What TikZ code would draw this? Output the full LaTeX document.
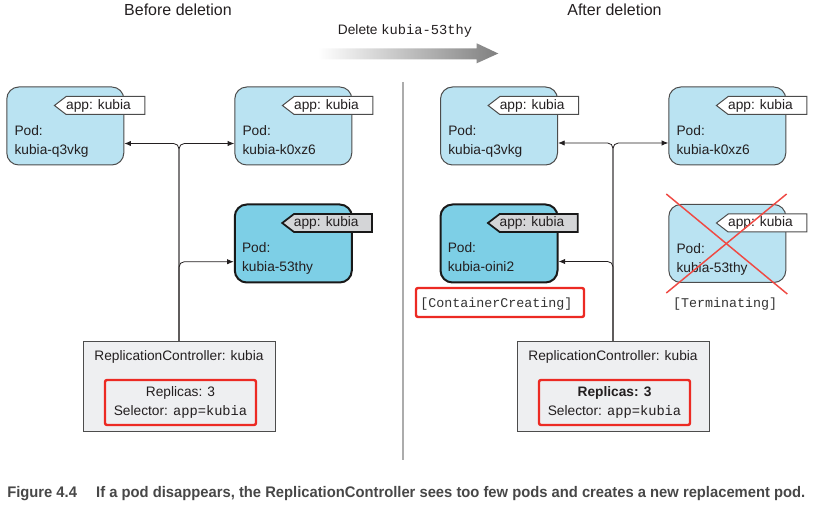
\documentclass[tikz,border=0pt]{standalone}
\usepackage{fontspec}
\setmainfont{Liberation Sans}
\setmonofont{Liberation Mono}
\usepackage{graphicx}
\usepackage{xcolor}
\usetikzlibrary{arrows.meta, positioning, shapes.symbols}

\definecolor{podblue}{HTML}{BAE3F2}
\definecolor{podnew}{HTML}{7DCFE6}
\definecolor{rcgray}{HTML}{EEEFF1}
\definecolor{taggray}{HTML}{D4D5D7}
\definecolor{alertred}{HTML}{EC2A23}
\definecolor{inkgray}{HTML}{231F20}

\begin{document}
\begin{tikzpicture}[
    x=0.75pt, y=-0.75pt,
    every node/.style={font=\fontsize{10.3}{14.25}\selectfont, text=inkgray},
    pod/.style={rectangle, draw=black!70, line width=0.75pt, rounded corners=9pt, fill=podblue, minimum width=87.75pt, minimum height=58.5pt, inner sep=0pt},
    newpod/.style={pod, fill=podnew, draw=black!90, line width=1.5pt},
    tag/.style={signal, signal to=west, signal pointer angle=75, draw=black!70, line width=0.75pt, fill=white, minimum height=13.5pt, inner xsep=0pt, inner ysep=0pt, anchor=east},
    newtag/.style={tag, fill=taggray, draw=black!90, line width=1.3pt},
    podtext/.style={anchor=north west, align=left, inner sep=0pt},
    title/.style={font=\fontsize{12}{14}\selectfont},
    rcbox/.style={rectangle, draw=black!70, line width=0.75pt, fill=rcgray, minimum width=144pt, minimum height=67.5pt},
    redbox/.style={rectangle, draw=alertred, line width=1.8pt, rounded corners=1.5pt, minimum width=113.25pt, minimum height=33.75pt, align=center, inner sep=0pt},
    state/.style={font=\ttfamily\fontsize{10}{12}\selectfont, text=black!80, inner sep=0pt},
    conn/.style={draw=inkgray, line width=0.6pt, rounded corners=4pt, -{Latex[length=5pt, width=4pt]}},
    cross/.style={draw=alertred!85, line width=1.1pt}
]
    \useasboundingbox (0,0) rectangle (813,505);

    % titles and the delete arrow
    \node[title] (before) at (178,10) {Before deletion};
    \node[title] (after) at (614.5,10) {After deletion};
    \node (delete) at (405,31) {Delete \texttt{kubia-53thy}};
    \shade[left color=white, right color=black!50]
        (318,48.3) -- (476.7,48.3) -- (476.7,43.3) -- (498.3,53.5) -- (476.7,63.3) -- (476.7,59.3) -- (318,59.3) -- cycle;
    \draw[gray!65, line width=1.1pt] (403,82) -- (403,460);

    % before deletion
    \node[pod] (lq) at (65.3,126) {};
    \node[tag] (lq-tag) at ([shift={(21,19)}]lq.north east) {app: kubia\kern10.5pt};
    \node[podtext] (lq-txt) at ([shift={(8,39)}]lq.north west) {Pod:\\kubia-q3vkg};
    \node[pod] (lk) at (293.3,126) {};
    \node[tag] (lk-tag) at ([shift={(21,19)}]lk.north east) {app: kubia\kern10.5pt};
    \node[podtext] (lk-txt) at ([shift={(8,39)}]lk.north west) {Pod:\\kubia-k0xz6};
    \node[newpod] (l53) at (293.3,243.5) {};
    \node[newtag] (l53-tag) at ([shift={(20,19.5)}]l53.north east) {app: kubia\kern10pt};
    \node[podtext] (l53-txt) at ([shift={(8,39)}]l53.north west) {Pod:\\kubia-53thy};

    \node[rcbox] (rcl) at (179,386.5) {};
    \node (rcl-name) at (179,357) {ReplicationController: kubia};
    \node[redbox] (rcl-spec) at (180.5,402.5) {Replicas: 3\\Selector: \texttt{app=kubia}};

    \draw[conn] (rcl.north) |- ([shift={(0,17.5)}]lq.east);
    \draw[conn] (rcl.north) |- ([shift={(0,17.5)}]lk.west);
    \draw[conn] (rcl.north) |- ([shift={(0,18.2)}]l53.west);

    % after deletion
    \node[pod] (rq) at (499,126) {};
    \node[tag] (rq-tag) at ([shift={(21,19)}]rq.north east) {app: kubia\kern10.5pt};
    \node[podtext] (rq-txt) at ([shift={(8,39)}]rq.north west) {Pod:\\kubia-q3vkg};
    \node[pod] (rk) at (727.3,126) {};
    \node[tag] (rk-tag) at ([shift={(21,19)}]rk.north east) {app: kubia\kern10.5pt};
    \node[podtext] (rk-txt) at ([shift={(8,39)}]rk.north west) {Pod:\\kubia-k0xz6};
    \node[newpod] (ro) at (499,243.5) {};
    \node[newtag] (ro-tag) at ([shift={(20,19.5)}]ro.north east) {app: kubia\kern10pt};
    \node[podtext] (ro-txt) at ([shift={(8,39)}]ro.north west) {Pod:\\kubia-oini2};
    \node[pod] (r53) at (727.3,243.5) {};
    \node[tag] (r53-tag) at ([shift={(21,19)}]r53.north east) {app: kubia\kern10.5pt};
    \node[podtext] (r53-txt) at ([shift={(8,39)}]r53.north west) {Pod:\\kubia-53thy};

    \draw[cross] ([shift={(-2,-10)}]r53.north west) -- ([shift={(1,11)}]r53.south east);
    \draw[cross] ([shift={(0.3,-10)}]r53.north east) -- ([shift={(-2,10)}]r53.south west);

    \node[redbox, minimum width=126pt, minimum height=21.75pt] (ro-state) at (500,302.5) {};
    \node[state] (ro-state-txt) at (496.5,304) {[ContainerCreating]};
    \node[state] (r53-state) at (725,304) {[Terminating]};

    \node[rcbox] (rcr) at (613,386.5) {};
    \node (rcr-name) at (613,357) {ReplicationController: kubia};
    \node[redbox] (rcr-spec) at (614.5,402.5) {\textbf{Replicas: 3}\\Selector: \texttt{app=kubia}};

    \draw[conn] (rcr.north) |- ([shift={(0,17)}]rq.east);
    \draw[conn] (rcr.north) |- ([shift={(0,17)}]rk.west);
    \draw[conn] (rcr.north) |- ([shift={(0,18)}]ro.east);

    % caption
    \node[anchor=west, inner sep=0pt, font=\fontsize{11.5}{13}\bfseries, text=black!72] (caption) at (7,494)
        {\resizebox{598.5pt}{\height}{Figure 4.4\hspace{1.3em}If a pod disappears, the ReplicationController sees too few pods and creates a new replacement pod.}};
\end{tikzpicture}
\end{document}
